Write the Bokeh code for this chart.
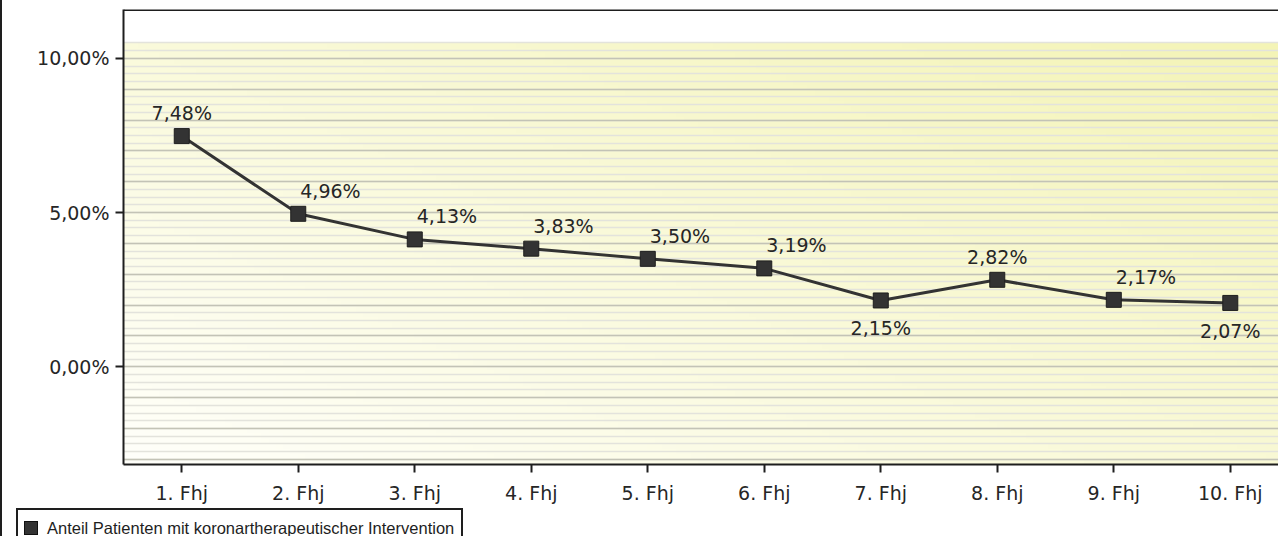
import numpy as np
from bokeh.plotting import figure
from bokeh.layouts import column
from bokeh.models import (Range1d, FixedTicker, ColumnDataSource, Span, Div)
from bokeh.core.properties import value
from bokeh.embed import file_html
from bokeh.resources import INLINE

# ---------------- data ----------------
categories = ["1. Fhj", "2. Fhj", "3. Fhj", "4. Fhj", "5. Fhj",
              "6. Fhj", "7. Fhj", "8. Fhj", "9. Fhj", "10. Fhj"]
values = [7.48, 4.96, 4.13, 3.83, 3.50, 3.19, 2.15, 2.82, 2.17, 2.07]
y_tick_values = [0, 5, 10]
y_tick_labels = ["0,00%", "5,00%", "10,00%"]
series_name = "Anteil Patienten mit koronartherapeutischer Intervention"

def fmt(v):
    return f"{v:.2f}".replace(".", ",") + "%"

labels = [fmt(v) for v in values]
xpos = list(range(1, len(categories) + 1))

# ---------------- layout constants ----------------
Y_MIN, Y_MAX = -3.17, 11.586
BG_TOP = 10.52
X_MIN, X_MAX = 0.5, 10.431
DARK = "#333333"
TXT = "#262626"
FRAME = "#1e1e1e"

p = figure(x_range=Range1d(X_MIN, X_MAX), y_range=Range1d(Y_MIN, Y_MAX),
           width=1278, height=506,
           min_border_left=121, min_border_right=0,
           min_border_top=9, min_border_bottom=41,
           output_backend="svg", toolbar_location=None,
           background_fill_color="white", border_fill_color="white",
           outline_line_color=None)
p.styles = {"border-left": f"2px solid {FRAME}"}

# ---------------- gradient background ----------------
ny, nx = 80, 160
yy, xx = np.mgrid[0:ny, 0:nx]
t = (xx / (nx - 1)) * 0.55 + (yy / (ny - 1)) * 0.45
c0 = np.array([255, 255, 250], dtype=float)
c1 = np.array([244, 244, 182], dtype=float)
img = np.empty((ny, nx), dtype=np.uint32)
view = img.view(dtype=np.uint8).reshape((ny, nx, 4))
view[..., :3] = (c0 + (c1 - c0) * t[..., None]).astype(np.uint8)
view[..., 3] = 255
bg = p.image_rgba(image=[img], x=X_MIN, y=Y_MIN, dw=len(categories), dh=BG_TOP - Y_MIN)
bg.level = "image"

# ---------------- grid ----------------
p.xgrid.visible = False
p.ygrid.ticker = FixedTicker(ticks=list(range(-3, 11)),
                             minor_ticks=[k * 0.25 for k in range(-12, 43)])
p.ygrid.bounds = (Y_MIN, BG_TOP)
p.ygrid.grid_line_color = "#c3c3b6"
p.ygrid.grid_line_width = 1.6
p.ygrid.minor_grid_line_color = "#e3e3dc"
p.ygrid.minor_grid_line_width = 1.6

# top border of the chart box
p.add_layout(Span(location=Y_MAX, dimension="width", line_color=FRAME, line_width=3))

# ---------------- series ----------------
src = ColumnDataSource(dict(x=xpos, y=values, label=labels))
p.line("x", "y", source=src, line_color=DARK, line_width=3)
p.scatter("x", "y", source=src, marker="square", size=15,
          fill_color=DARK, line_color=FRAME, line_width=1)

# label placement: local minima / last point below, local maxima / first centered above,
# points on a falling or rising stretch above and to the right
above_c, above_r, below = [], [], []
n = len(values)
for i, v in enumerate(values):
    prev = values[i - 1] if i > 0 else None
    nxt = values[i + 1] if i < n - 1 else None
    if prev is None:
        above_c.append(i)
    elif v < prev and (nxt is None or v < nxt):
        below.append(i)
    elif nxt is not None and v > prev and v > nxt:
        above_c.append(i)
    else:
        above_r.append(i)

def sub(idx):
    return ColumnDataSource(dict(x=[xpos[i] for i in idx],
                                 y=[values[i] for i in idx],
                                 label=[labels[i] for i in idx]))

common = dict(text="label", text_font=value("DejaVu Sans"),
              text_font_size="19px", text_color=TXT, text_baseline="alphabetic")
p.text("x", "y", source=sub(above_c), text_align="center", y_offset=-23, **common)
p.text("x", "y", source=sub(above_r), text_align="left", x_offset=2, y_offset=-23, **common)
p.text("x", "y", source=sub(below), text_align="center", y_offset=28, **common)

# ---------------- axes ----------------
for ax in (p.xaxis[0], p.yaxis[0]):
    ax.axis_line_color = FRAME
    ax.axis_line_width = 2
    ax.major_tick_line_color = FRAME
    ax.major_tick_line_width = 2
    ax.major_tick_in = 0
    ax.major_tick_out = 8
    ax.minor_tick_line_color = None
    ax.major_label_text_font = "DejaVu Sans"
    ax.major_label_text_font_size = "19px"
    ax.major_label_text_color = TXT

p.yaxis.ticker = FixedTicker(ticks=y_tick_values)
p.yaxis.major_label_overrides = dict(zip(y_tick_values, y_tick_labels))
p.yaxis.major_label_standoff = 6
p.xaxis.ticker = FixedTicker(ticks=xpos)
p.xaxis.major_label_overrides = dict(zip(xpos, categories))
p.xaxis.major_label_standoff = 9

# ---------------- legend (strip below the chart) ----------------
legend_html = (
    f'<div style="height:30px;overflow:hidden;border-left:2px solid {FRAME};">'
    f'<div style="box-sizing:border-box;margin:2px 0 0 14px;width:447px;height:44px;'
    f'border:2px solid {FRAME};background:white;padding:8px 6px;display:flex;'
    f'align-items:flex-start;font-family:\'Liberation Sans\';font-size:16.5px;'
    f'line-height:20px;color:{FRAME};white-space:nowrap;">'
    f'<span style="display:inline-block;box-sizing:border-box;width:14px;height:14px;'
    f'margin:3px 9px 0 0;background:{DARK};border:1px solid #111111;flex:none;"></span>'
    f'<span>{series_name}</span></div></div>'
)
leg = Div(text=legend_html, width=1280, height=30,
          styles={"margin": "0", "padding": "0"})

layout = column(p, leg, spacing=0)
open("out.html", "w").write(file_html(layout, INLINE))
